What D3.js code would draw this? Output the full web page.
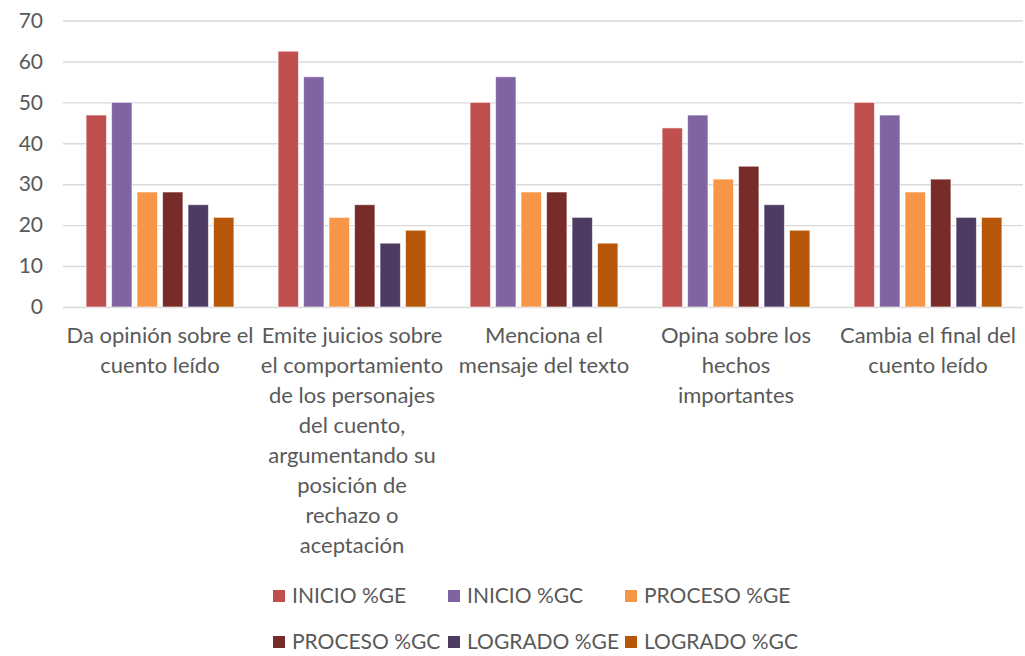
<!DOCTYPE html>
<html>
<head>
<meta charset="utf-8">
<script src="https://cdn.jsdelivr.net/npm/d3@7"></script>
<style>
  body { margin: 0; background: #fff; }
  svg { display: block; font-family: Lato, "Liberation Sans", sans-serif; }
</style>
</head>
<body>
<div id="chart"></div>
<script>
// categories, already broken into lines as in the original
var categories = [
  ['Da opinión sobre el', 'cuento leído'],
  ['Emite juicios sobre', 'el comportamiento', 'de los personajes', 'del cuento,', 'argumentando su', 'posición de', 'rechazo o', 'aceptación'],
  ['Menciona el', 'mensaje del texto'],
  ['Opina sobre los', 'hechos', 'importantes'],
  ['Cambia el final del', 'cuento leído']
];
var seriesNames = ['INICIO %GE', 'INICIO %GC', 'PROCESO %GE', 'PROCESO %GC', 'LOGRADO %GE', 'LOGRADO %GC'];
var seriesColors = ['#C0504D', '#8064A2', '#F79646', '#772C2A', '#4D3B62', '#B65708'];

var inicioGE  = [46.9, 62.5, 50, 43.75, 50];
var inicioGC  = [50, 56.25, 56.25, 46.9, 46.9];
var procesoGE = [28.1, 21.9, 28.1, 31.25, 28.1];
var procesoGC = [28.1, 25, 28.1, 34.4, 31.25];
var logradoGE = [25, 15.6, 21.9, 25, 21.9];
var logradoGC = [21.9, 18.75, 15.6, 18.75, 21.9];
var yTicks = [0, 10, 20, 30, 40, 50, 60, 70];

var series = [inicioGE, inicioGC, procesoGE, procesoGC, logradoGE, logradoGC];

var width = 1025, height = 656;
var fontSize = 21;
var textColor = '#595959';

var svg = d3.select('#chart').append('svg')
  .attr('width', width)
  .attr('height', height);

var yScale = d3.scaleLinear()
  .domain([0, 70])
  .range([307, 20.5]);

var x0 = d3.scaleBand()
  .domain(d3.range(categories.length))
  .range([64, 1024])
  .paddingInner(0.23)
  .paddingOuter(0.115);

var x1 = d3.scaleBand()
  .domain(d3.range(series.length))
  .range([0, x0.bandwidth()])
  .paddingInner(0.2);

// grid
var yAxis = svg.append('g')
  .attr('transform', 'translate(63,0)')
  .call(d3.axisLeft(yScale).tickValues(yTicks).tickSize(-960).tickPadding(20));
yAxis.select('.domain').remove();
yAxis.selectAll('.tick line').attr('stroke', '#D9D9D9').attr('stroke-width', 1.4);
yAxis.selectAll('.tick text')
  .attr('fill', textColor)
  .style('font-size', fontSize + 'px')
  .style('font-family', 'Lato, "Liberation Sans", sans-serif');

// bars
var groups = svg.append('g').selectAll('g')
  .data(categories)
  .enter().append('g')
  .attr('transform', function(d, i) { return 'translate(' + x0(i) + ',0)'; });

groups.selectAll('rect')
  .data(function(d, i) { return series.map(function(s, j) { return {s: j, v: s[i]}; }); })
  .enter().append('rect')
  .attr('x', function(d) { return x1(d.s); })
  .attr('width', x1.bandwidth())
  .attr('y', function(d) { return yScale(d.v); })
  .attr('height', function(d) { return yScale(0) - yScale(d.v); })
  .attr('fill', function(d) { return seriesColors[d.s]; })
  .attr('stroke', '#fff')
  .attr('stroke-opacity', 0.6)
  .attr('stroke-width', 1);

// category labels
var labels = svg.append('g').selectAll('text')
  .data(categories)
  .enter().append('text')
  .attr('text-anchor', 'middle')
  .attr('fill', textColor)
  .style('font-size', '22px')
  .attr('x', function(d, i) { return x0(i) + x0.bandwidth() / 2; })
  .attr('y', 343);

labels.selectAll('tspan')
  .data(function(d) { return d; })
  .enter().append('tspan')
  .attr('x', function() { return d3.select(this.parentNode).attr('x'); })
  .attr('dy', function(d, i) { return i === 0 ? 0 : 30; })
  .text(function(d) { return d; });

// legend, 3 per row
var legendCols = [273, 448, 625];
var legendRows = [596, 642];
var legend = svg.append('g').selectAll('g')
  .data(seriesNames)
  .enter().append('g')
  .attr('transform', function(d, i) {
    return 'translate(' + legendCols[i % 3] + ',' + legendRows[Math.floor(i / 3)] + ')';
  });
legend.append('rect')
  .attr('x', 0).attr('y', -6)
  .attr('width', 12).attr('height', 12)
  .attr('fill', function(d, i) { return seriesColors[i]; });
legend.append('text')
  .attr('x', 19)
  .attr('dy', '0.35em')
  .attr('fill', textColor)
  .style('font-size', fontSize + 'px')
  .text(function(d) { return d; });
</script>
</body>
</html>
